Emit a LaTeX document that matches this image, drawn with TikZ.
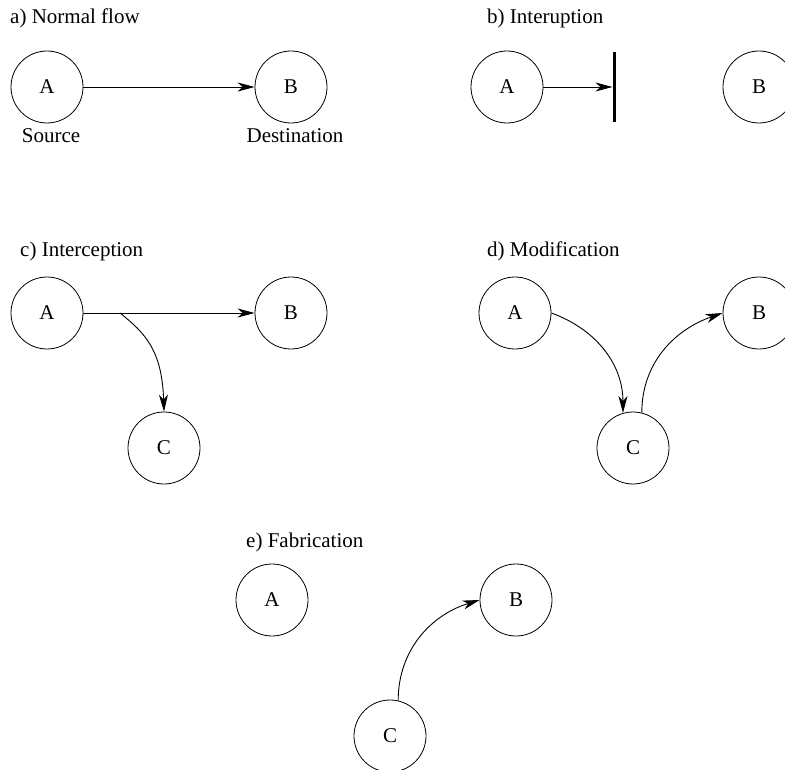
\documentclass[tikz,border=0pt]{standalone}
\usepackage{fontspec}
\setmainfont{Liberation Serif}
\usetikzlibrary{arrows.meta}
\begin{document}
\begin{tikzpicture}[x=1pt,y=-1pt,
  every node/.style={font=\fontsize{21}{25}\selectfont},
  party/.style={circle,draw,line width=0.8pt,minimum size=72pt,inner sep=0pt},
  caption/.style={anchor=base west,inner sep=0pt},
  tag/.style={anchor=base,inner sep=0pt},
  flow/.style={line width=0.9pt,-{Stealth[length=17pt,width=9pt,inset=5pt]}},
  barrier/.style={line width=3pt}]
\useasboundingbox (0,0) rectangle (785,770);

% a) normal flow
\node[caption] (ta) at (10,24) {a) Normal flow};
\node[party] (aA) at (47,87) {A};
\node[party] (aB) at (291,87) {B};
\node[tag] (src) at (51,143) {Source};
\node[tag] (dst) at (295,143) {Destination};
\draw[flow] (aA.east) -- (aB.west);

% b) interruption
\node[caption] (tb) at (487,24) {b) Interuption};
\node[party] (bA) at (507,87) {A};
\node[party] (bB) at (759,87) {B};
\coordinate (barTop) at (614,52);
\coordinate (barBot) at (614,122);
\coordinate (barHit) at (612.5,87);
\draw[barrier] (barTop) -- (barBot);
\draw[flow] (bA.east) -- (barHit);

% c) interception
\node[caption] (tc) at (20,257) {c) Interception};
\node[party] (cA) at (47,313) {A};
\node[party] (cB) at (291,313) {B};
\node[party] (cC) at (164,448) {C};
\coordinate (cSplit) at (120,313);
\draw[flow] (cA.east) -- (cB.west);
\draw[flow] (cSplit) .. controls (145,333) and (162,350) .. (cC.north);

% d) modification
\node[caption] (td) at (487,257) {d) Modification};
\node[party] (dA) at (515,313) {A};
\node[party] (dB) at (759,313) {B};
\node[party] (dC) at (633,448) {C};
\draw[flow] (dA.east) to[out=-20,in=90] (dC.106);
\draw[flow] (dC.76) to[out=90,in=199] (dB.west);

% e) fabrication
\node[caption] (te) at (246,547) {e) Fabrication};
\node[party] (eA) at (272,600) {A};
\node[party] (eB) at (516,600) {B};
\node[party] (eC) at (390,736) {C};
\draw[flow] (eC.77) to[out=90,in=197] (eB.west);
\end{tikzpicture}
\end{document}
